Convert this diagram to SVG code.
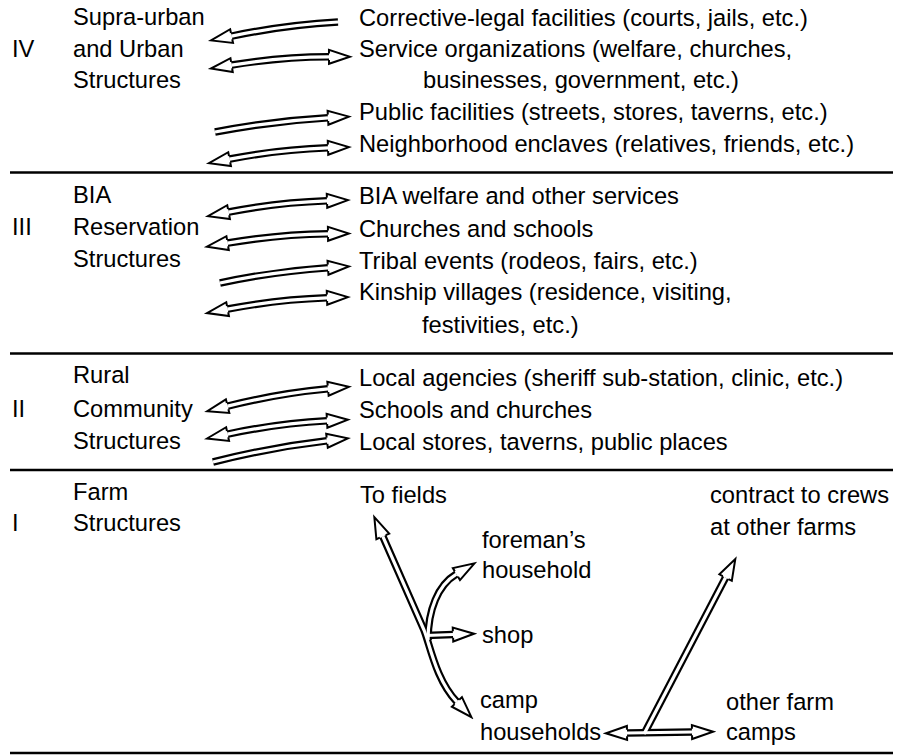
<svg xmlns="http://www.w3.org/2000/svg" xmlns:xlink="http://www.w3.org/1999/xlink" width="899" height="756" viewBox="0 0 899 756">
  <style>
    text { font-family: "Liberation Sans", Arial, sans-serif; font-size: 23.7px; fill: #000; }
    .rule { stroke: #000; stroke-width: 2.4; fill: none; }
    .rail { stroke: #000; stroke-width: 7.6; fill: none; stroke-linecap: butt; stroke-linejoin: round; }
    .core { stroke: #fff; stroke-width: 3.2; fill: none; stroke-linecap: butt; stroke-linejoin: round; }
  </style>
  <defs>
    <!-- hollow arrowhead; base left open where the double shaft enters -->
    <marker id="head" viewBox="-2 -9 26 18" refX="0" refY="0" markerWidth="26" markerHeight="18"
            markerUnits="userSpaceOnUse" orient="auto-start-reverse">
      <path d="M0,-3.2 L0,-7 L21,0 L0,7 L0,3.2" fill="#fff" stroke="#000" stroke-width="2" stroke-linejoin="miter"/>
    </marker>
    <!-- level IV -->
    <path id="a1" d="M231.6,36.1 Q284.8,25 338,22"/>
    <path id="a2" d="M231.6,65.1 Q280.3,57 329,56.8"/>
    <path id="a3" d="M215,132 Q271.5,121 328,117.8"/>
    <path id="a4" d="M229.6,159.1 Q278.8,149.5 328,147.8"/>
    <!-- level III -->
    <path id="b1" d="M228.6,212.1 Q277.8,202.5 327,200.8"/>
    <path id="b2" d="M227.6,243.1 Q277.8,234.5 328,233.8"/>
    <path id="b3" d="M220,283 Q274,271.4 328,267.8"/>
    <path id="b4" d="M227.6,309.1 Q277.3,299.5 327,297.8"/>
    <!-- level II -->
    <path id="c1" d="M227.6,406.1 Q277.8,393.5 328,388.8"/>
    <path id="c2" d="M227.6,434.1 Q277.3,423.5 327,420.8"/>
    <path id="c3" d="M213,462 Q270,447.4 327,440.8"/>
    <!-- level I: farm movements -->
    <path id="f1" d="M382.8,536.4 L424,630 C430,645 436,680 456.9,701.9"/>
    <path id="f2" d="M428,640 C428,610 438,585 456.4,574.1"/>
    <path id="f3" d="M426,635.5 L453,634.5"/>
    <path id="f4" d="M627,733 L692,732"/>
    <path id="f5" d="M644,734 L725.6,577.6"/>
  </defs>

  <!-- level dividers -->
  <g id="rules">
    <line class="rule" x1="10" y1="172.5" x2="893" y2="172.5"/>
    <line class="rule" x1="10" y1="353.5" x2="893" y2="353.5"/>
    <line class="rule" x1="10" y1="470" x2="893" y2="470"/>
    <line class="rule" x1="10" y1="753" x2="893" y2="753"/>
  </g>

  <g id="connectors">
    <g class="rails">
      <use xlink:href="#a1" class="rail" marker-start="url(#head)"/>
      <use xlink:href="#a2" class="rail" marker-start="url(#head)" marker-end="url(#head)"/>
      <use xlink:href="#a3" class="rail" marker-end="url(#head)"/>
      <use xlink:href="#a4" class="rail" marker-start="url(#head)" marker-end="url(#head)"/>
      <use xlink:href="#b1" class="rail" marker-start="url(#head)" marker-end="url(#head)"/>
      <use xlink:href="#b2" class="rail" marker-start="url(#head)" marker-end="url(#head)"/>
      <use xlink:href="#b3" class="rail" marker-end="url(#head)"/>
      <use xlink:href="#b4" class="rail" marker-start="url(#head)" marker-end="url(#head)"/>
      <use xlink:href="#c1" class="rail" marker-start="url(#head)" marker-end="url(#head)"/>
      <use xlink:href="#c2" class="rail" marker-start="url(#head)" marker-end="url(#head)"/>
      <use xlink:href="#c3" class="rail" marker-end="url(#head)"/>
      <use xlink:href="#f1" class="rail" marker-start="url(#head)" marker-end="url(#head)"/>
      <use xlink:href="#f2" class="rail" marker-end="url(#head)"/>
      <use xlink:href="#f3" class="rail" marker-end="url(#head)"/>
      <use xlink:href="#f4" class="rail" marker-start="url(#head)" marker-end="url(#head)"/>
      <use xlink:href="#f5" class="rail" marker-end="url(#head)"/>
    </g>
    <g class="cores">
      <use xlink:href="#a1" class="core"/>
      <use xlink:href="#a2" class="core"/>
      <use xlink:href="#a3" class="core"/>
      <use xlink:href="#a4" class="core"/>
      <use xlink:href="#b1" class="core"/>
      <use xlink:href="#b2" class="core"/>
      <use xlink:href="#b3" class="core"/>
      <use xlink:href="#b4" class="core"/>
      <use xlink:href="#c1" class="core"/>
      <use xlink:href="#c2" class="core"/>
      <use xlink:href="#c3" class="core"/>
      <use xlink:href="#f1" class="core"/>
      <use xlink:href="#f2" class="core"/>
      <use xlink:href="#f3" class="core"/>
      <use xlink:href="#f4" class="core"/>
      <use xlink:href="#f5" class="core"/>
    </g>
  </g>

  <!-- level IV -->
  <g id="level-iv">
    <text x="12" y="56.7">IV</text>
    <text x="73" y="25">Supra-urban</text>
    <text x="73" y="56.7">and Urban</text>
    <text x="73" y="88.3">Structures</text>
  </g>
  <g id="iv-corrective"><text x="359" y="26">Corrective-legal facilities (courts, jails, etc.)</text></g>
  <g id="iv-service">
    <text x="359" y="56.7">Service organizations (welfare, churches,</text>
    <text x="423" y="88.3">businesses, government, etc.)</text>
  </g>
  <g id="iv-public"><text x="359" y="120">Public facilities (streets, stores, taverns, etc.)</text></g>
  <g id="iv-neighborhood"><text x="359" y="151.7">Neighborhood enclaves (relatives, friends, etc.)</text></g>

  <!-- level III -->
  <g id="level-iii">
    <text x="12" y="235">III</text>
    <text x="73" y="203.3">BIA</text>
    <text x="73" y="235">Reservation</text>
    <text x="73" y="266.7">Structures</text>
  </g>
  <g id="iii-bia"><text x="359" y="204.3">BIA welfare and other services</text></g>
  <g id="iii-churches"><text x="359" y="236.7">Churches and schools</text></g>
  <g id="iii-tribal"><text x="359" y="268.7">Tribal events (rodeos, fairs, etc.)</text></g>
  <g id="iii-kinship">
    <text x="359" y="300">Kinship villages (residence, visiting,</text>
    <text x="422" y="333.3">festivities, etc.)</text>
  </g>

  <!-- level II -->
  <g id="level-ii">
    <text x="12" y="416.7">II</text>
    <text x="73" y="383.3">Rural</text>
    <text x="73" y="416.7">Community</text>
    <text x="73" y="449.3">Structures</text>
  </g>
  <g id="ii-agencies"><text x="359" y="386">Local agencies (sheriff sub-station, clinic, etc.)</text></g>
  <g id="ii-schools"><text x="359" y="418.3">Schools and churches</text></g>
  <g id="ii-stores"><text x="359" y="450">Local stores, taverns, public places</text></g>

  <!-- level I -->
  <g id="level-i">
    <text x="12" y="531">I</text>
    <text x="73" y="500">Farm</text>
    <text x="73" y="531">Structures</text>
  </g>
  <g id="i-fields"><text x="360" y="503.3">To fields</text></g>
  <g id="i-foreman">
    <text x="482" y="548">foreman’s</text>
    <text x="482" y="578">household</text>
  </g>
  <g id="i-shop"><text x="482" y="643">shop</text></g>
  <g id="i-camp">
    <text x="480" y="708">camp</text>
    <text x="480" y="740">households</text>
  </g>
  <g id="i-contract">
    <text x="710" y="503">contract to crews</text>
    <text x="710" y="535">at other farms</text>
  </g>
  <g id="i-other-camps">
    <text x="726" y="710">other farm</text>
    <text x="726" y="740">camps</text>
  </g>
</svg>
